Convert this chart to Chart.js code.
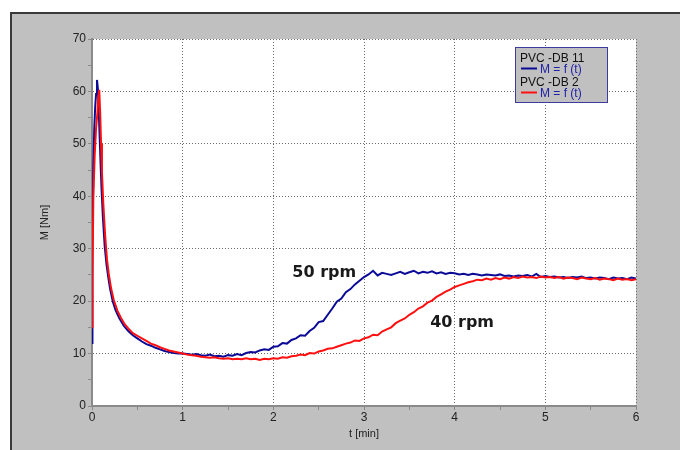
<!DOCTYPE html>
<html>
<head>
<meta charset="utf-8">
<script src="https://cdn.jsdelivr.net/npm/chart.js@4.4.0/dist/chart.umd.min.js"></script>
<style>
  html, body { margin: 0; padding: 0; background: #fff; }
</style>
</head>
<body>
<canvas id="torque" width="680" height="450"></canvas>
<script>
// t [min] / M [Nm]
var blueHeadTime = [0, 0.005, 0.015, 0.025, 0.035, 0.045, 0.055, 0.065, 0.075, 0.085, 0.095, 0.105, 0.12, 0.14, 0.16, 0.18, 0.2, 0.23, 0.26, 0.3, 0.35, 0.4, 0.45, 0.5, 0.55, 0.6, 0.65, 0.7, 0.75, 0.8, 0.85, 0.9, 0.95];
var blueHeadM = [12, 30, 46, 53, 57, 59.5, 62.2, 60.5, 56, 51, 46, 41.5, 36, 30.5, 27, 24.5, 22.3, 19.9, 18.3, 16.8, 15.3, 14.3, 13.5, 12.9, 12.3, 11.8, 11.5, 11.1, 10.8, 10.5, 10.3, 10.1, 10.0];

var redHeadTime = [0, 0.005, 0.015, 0.03, 0.045, 0.06, 0.07, 0.08, 0.09, 0.1, 0.11, 0.125, 0.145, 0.165, 0.185, 0.21, 0.24, 0.28, 0.32, 0.36, 0.4, 0.45, 0.5, 0.55, 0.6, 0.65, 0.7, 0.75, 0.8, 0.85, 0.9, 0.95];
var redHeadM = [15, 25, 40, 48, 53, 56, 59, 60.3, 56, 50, 44.5, 38.5, 32.5, 28, 25.2, 22.5, 20.2, 18.2, 16.8, 15.6, 14.8, 13.9, 13.4, 12.9, 12.4, 11.9, 11.6, 11.2, 10.9, 10.6, 10.4, 10.2];

var tailTime = [1.00, 1.05, 1.10, 1.15, 1.20, 1.25, 1.30, 1.35, 1.40, 1.45, 1.50, 1.55, 1.60, 1.65, 1.70, 1.75, 1.80, 1.85, 1.90, 1.95,
  2.00, 2.05, 2.10, 2.15, 2.20, 2.25, 2.30, 2.35, 2.40, 2.45, 2.50, 2.55, 2.60, 2.65, 2.70, 2.75, 2.80, 2.85, 2.90, 2.95,
  3.00, 3.05, 3.10, 3.15, 3.20, 3.25, 3.30, 3.35, 3.40, 3.45, 3.50, 3.55, 3.60, 3.65, 3.70, 3.75, 3.80, 3.85, 3.90, 3.95,
  4.00, 4.05, 4.10, 4.15, 4.20, 4.25, 4.30, 4.35, 4.40, 4.45, 4.50, 4.55, 4.60, 4.65, 4.70, 4.75, 4.80, 4.85, 4.90, 4.95,
  5.00, 5.05, 5.10, 5.15, 5.20, 5.25, 5.30, 5.35, 5.40, 5.45, 5.50, 5.55, 5.60, 5.65, 5.70, 5.75, 5.80, 5.85, 5.90, 5.95, 6.00];

var blueTailM = [10.0, 9.9, 9.8, 9.9, 9.7, 9.6, 9.8, 9.5, 9.6, 9.4,
  9.7, 9.6, 9.9, 9.7, 10.1, 10.3, 10.2, 10.6, 10.8, 10.7,
  11.3, 11.4, 12.0, 11.9, 12.6, 12.9, 13.5, 13.4, 14.3, 14.9,
  16.0, 16.2, 17.4, 18.6, 19.9, 20.5, 21.7, 22.3, 23.2, 23.9,
  24.6, 25.1, 25.8, 24.9, 25.4, 25.2, 25.0, 25.3, 25.6, 25.2,
  25.5, 25.8, 25.3, 25.6, 25.4, 25.7, 25.3, 25.5, 25.2, 25.4,
  25.3, 25.1, 25.2, 25.0, 25.2, 25.1, 24.9, 25.1, 25.0, 24.9,
  25.1, 24.8, 24.9, 24.7, 24.9, 24.8, 25.0, 24.7, 25.2, 24.6,
  24.8, 24.6, 24.7, 24.5, 24.6, 24.4, 24.6, 24.5, 24.7, 24.4,
  24.5, 24.3, 24.5, 24.4, 24.2, 24.5, 24.3, 24.4, 24.2, 24.5,
  24.3];

var redTailM = [10.0, 9.8, 9.7, 9.6, 9.4, 9.3, 9.2, 9.3, 9.1, 9.0,
  9.1, 8.9, 9.0, 8.9, 9.1, 8.9, 9.0, 8.8, 9.0, 8.9,
  9.1, 9.0, 9.3, 9.2, 9.5, 9.6, 9.8, 9.7, 10.1, 10.0,
  10.4, 10.6, 10.9, 11.0, 11.3, 11.6, 11.9, 12.1, 12.5, 12.4,
  12.9, 13.1, 13.6, 13.5, 14.2, 14.6, 15.0, 15.8, 16.3, 16.7,
  17.4, 17.9, 18.6, 19.0, 19.7, 20.1, 20.8, 21.3, 21.8, 22.2,
  22.7, 23.0, 23.3, 23.6, 23.8, 24.1, 24.0, 24.3, 24.1, 24.4,
  24.2, 24.5, 24.3, 24.6, 24.4, 24.7, 24.5, 24.6, 24.4, 24.7,
  24.5, 24.6, 24.4, 24.6, 24.3, 24.5, 24.4, 24.2, 24.5, 24.3,
  24.2, 24.4, 24.1, 24.3, 24.2, 24.0, 24.3, 24.1, 24.2, 24.0,
  24.2];

var seriesNames = ['PVC -DB 11', 'PVC -DB 2'];
var seriesLabel = 'M = f (t)';
var rpmLabels = ['50 rpm', '40 rpm'];
var xTitle = 't [min]';
var yTitle = 'M [Nm]';

function toPoints(times, values) {
    var pts = [];
    for (var i = 0; i < times.length; i++) {
        pts.push({ x: times[i], y: values[i] });
    }
    return pts;
}

var bluePoints = toPoints(blueHeadTime.concat(tailTime), blueHeadM.concat(blueTailM));
var redPoints = toPoints(redHeadTime.concat(tailTime), redHeadM.concat(redTailM));

var BLUE = '#0a0a96';
var RED = '#ff1010';
var GRID = '#6a6a6a';
var AXIS = '#8a8a8a';

// gray frame + white plot area
var backdrop = {
    id: 'backdrop',
    beforeDraw: function (chart) {
        var ctx = chart.ctx;
        var a = chart.chartArea;
        ctx.save();
        ctx.fillStyle = '#ffffff';
        ctx.fillRect(0, 0, chart.width, chart.height);
        ctx.fillStyle = '#c0c0c0';
        ctx.fillRect(10, 12, chart.width - 10, chart.height - 12);
        ctx.strokeStyle = '#3a3a3a';
        ctx.lineWidth = 2;
        ctx.beginPath();
        ctx.moveTo(11, chart.height);
        ctx.lineTo(11, 13);
        ctx.lineTo(chart.width, 13);
        ctx.stroke();
        ctx.fillStyle = '#ffffff';
        ctx.fillRect(a.left, a.top, a.right - a.left, a.bottom - a.top);
        ctx.restore();
    }
};

// legend box and rpm notes
var notes = {
    id: 'notes',
    afterDraw: function (chart) {
        var ctx = chart.ctx;
        var xs = chart.scales.x, ys = chart.scales.y;
        ctx.save();

        ctx.font = 'bold 16px "DejaVu Sans"';
        ctx.fillStyle = '#1a1a1a';
        ctx.textBaseline = 'alphabetic';
        ctx.fillText(rpmLabels[0], xs.getPixelForValue(2.21), ys.getPixelForValue(24.6));
        ctx.fillText(rpmLabels[1], xs.getPixelForValue(3.73), ys.getPixelForValue(15.1));

        var bx = 515.5, by = 47.5, bw = 92, bh = 55;
        ctx.fillStyle = '#c0c0c0';
        ctx.fillRect(bx, by, bw, bh);
        ctx.strokeStyle = '#3c3ca0';
        ctx.lineWidth = 1;
        ctx.strokeRect(bx, by, bw, bh);

        ctx.font = '12px "Liberation Sans"';
        var colors = [BLUE, RED];
        for (var i = 0; i < seriesNames.length; i++) {
            var top = by + 14 + i * 24;
            ctx.fillStyle = '#111111';
            ctx.fillText(seriesNames[i], 520, top);
            ctx.strokeStyle = colors[i];
            ctx.lineWidth = 2;
            ctx.beginPath();
            ctx.moveTo(521, top + 7);
            ctx.lineTo(537, top + 7);
            ctx.stroke();
            ctx.fillStyle = '#2020a8';
            ctx.fillText(seriesLabel, 540, top + 11);
        }
        ctx.restore();
    }
};

function majorOnly(step) {
    return function (ctx) {
        var v = ctx.tick ? ctx.tick.value : 0;
        if (v === 0) return 'rgba(0,0,0,0)';
        return Math.abs(v / step - Math.round(v / step)) < 1e-6 ? GRID : 'rgba(0,0,0,0)';
    };
}

var chart = new Chart(document.getElementById('torque').getContext('2d'), {
    type: 'line',
    data: {
        datasets: [
            { label: seriesNames[1], data: redPoints, borderColor: RED, borderWidth: 2, pointRadius: 0, tension: 0, fill: false, order: 0 },
            { label: seriesNames[0], data: bluePoints, borderColor: BLUE, borderWidth: 2, pointRadius: 0, tension: 0, fill: false, order: 1 }
        ]
    },
    options: {
        responsive: false,
        animation: false,
        layout: { padding: { left: 0, top: 39, right: 44, bottom: 0 } },
        plugins: { legend: { display: false }, tooltip: { enabled: false } },
        scales: {
            x: {
                type: 'linear', min: 0, max: 6,
                afterFit: function (s) { s.height = 44; },
                ticks: {
                    stepSize: 0.5, padding: 0, color: '#222', maxRotation: 0, autoSkip: false,
                    font: { family: 'Liberation Sans', size: 12 },
                    callback: function (v) { return Number.isInteger(v) ? v : ''; }
                },
                grid: { color: majorOnly(1), lineWidth: 1, tickColor: AXIS, tickLength: 4 },
                border: { display: true, color: AXIS, width: 2, dash: [1, 2] },
                title: { display: true, text: xTitle, color: '#222', padding: { top: 0, bottom: 9 },
                         font: { family: 'Liberation Sans', size: 11 } }
            },
            y: {
                min: 0, max: 70,
                afterFit: function (s) { s.width = 92; },
                ticks: {
                    stepSize: 5, padding: 2, color: '#222', autoSkip: false,
                    font: { family: 'Liberation Sans', size: 12 },
                    callback: function (v) { return v % 10 === 0 ? v : ''; }
                },
                grid: { color: majorOnly(10), lineWidth: 1, tickColor: AXIS, tickLength: 4 },
                border: { display: true, color: AXIS, width: 2, dash: [1, 2] },
                title: { display: true, text: yTitle, color: '#222', padding: { top: 38, bottom: 0 },
                         font: { family: 'Liberation Sans', size: 11 } }
            }
        }
    },
    plugins: [backdrop, notes]
});
</script>
</body>
</html>
